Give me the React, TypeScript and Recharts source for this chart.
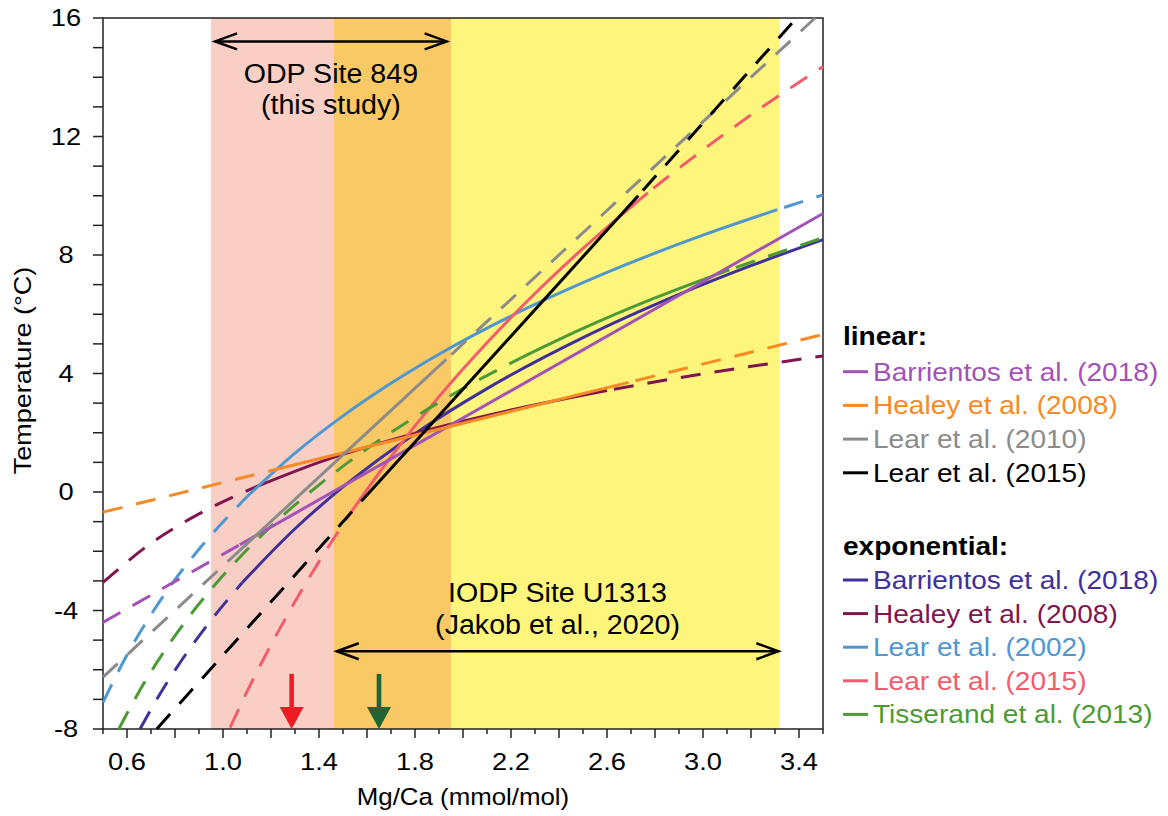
import { LineChart, Line, XAxis, YAxis, ReferenceArea, ReferenceLine } from 'recharts';

type Pt = [number, number]; // [Mg/Ca, temperature]

// linear calibrations
const barrientosLin: Pt[] = [[0.5, -4.4], [1.07, -1.78], [3.5, 9.4]];
const healeyLin: Pt[] = [[0.5, -0.68], [1.19, 0.7], [2.69, 3.7], [3.5, 5.32]];
const lear2010Lin: Pt[] = [[0.5, -6.25], [1.07, -1.97], [1.93, 4.48], [3.467, 16]];
const lear2015Lin: Pt[] = [[0.724, -8], [1.6, -0.1], [2.73, 10.0], [3.39, 16]];

// exponential calibrations
const barrientosExp: Pt[] = [
  [0.654, -8], [0.75, -6.65], [0.85, -5.42], [0.95, -4.33], [1.08, -3.06], [1.3, -1.24],
  [1.5, 0.17], [1.8, 1.97], [2.1, 3.49], [2.5, 5.21], [2.9, 6.67], [3.2, 7.64], [3.5, 8.52],
];
const healeyExp: Pt[] = [
  [0.5, -3.05], [0.7, -1.73], [0.9, -0.74], [1.13, 0.15], [1.4, 1.0], [1.8, 1.98],
  [2.2, 2.77], [2.6, 3.43], [3.0, 3.99], [3.5, 4.59],
];
const lear2002Exp: Pt[] = [
  [0.5, -7.1], [0.6, -5.5], [0.7, -4.14], [0.8, -2.96], [0.9, -1.93], [1.1, -0.16], [1.3, 1.31],
  [1.5, 2.57], [1.7, 3.67], [1.9, 4.65], [2.2, 5.94], [2.6, 7.41], [3.0, 8.67], [3.31, 9.53], [3.5, 10.03],
];
const lear2015Exp: Pt[] = [
  [1.03, -7.95], [1.1, -6.74], [1.2, -5.16], [1.3, -3.7], [1.4, -2.35], [1.55, -0.49], [1.7, 1.19],
  [1.9, 3.22], [2.1, 5.04], [2.3, 6.7], [2.5, 8.22], [2.77, 10.1], [3.0, 11.55], [3.25, 13.01], [3.5, 14.36],
];
const tisserandExp: Pt[] = [
  [0.566, -8], [0.65, -6.74], [0.75, -5.44], [0.85, -4.3], [1.0, -2.82], [1.2, -1.16], [1.4, 0.24],
  [1.6, 1.46], [1.8, 2.53], [2.0, 3.49], [2.24, 4.52], [2.5, 5.52], [2.8, 6.55], [3.11, 7.5], [3.3, 8.04], [3.5, 8.58],
];

// core-top Mg/Ca ranges of the two sites
const odpRange = [0.95, 1.95];
const iodpRange = [1.46, 3.32];
const markerMgCa = [1.286, 1.65];

const X_TICKS = [
  0.5, 0.6, 0.7, 0.8, 0.9, 1.0, 1.1, 1.2, 1.3, 1.4, 1.5, 1.6, 1.7, 1.8, 1.9, 2.0,
  2.1, 2.2, 2.3, 2.4, 2.5, 2.6, 2.7, 2.8, 2.9, 3.0, 3.1, 3.2, 3.3, 3.4, 3.5,
];
const X_LABELS = [0.6, 1.0, 1.4, 1.8, 2.2, 2.6, 3.0, 3.4];
const Y_TICKS = [-8, -7, -6, -5, -4, -3, -2, -1, 0, 1, 2, 3, 4, 5, 6, 7, 8, 9, 10, 11, 12, 13, 14, 15, 16];
const Y_LABELS = [-8, -4, 0, 4, 8, 12, 16];

interface Curve {
  id: string;
  label: string;
  color: string;
  pts: Pt[];
  solid: [number, number];
  smooth: boolean;
}

const LINEAR: Curve[] = [
  { id: 'bl', label: 'Barrientos et al. (2018)', color: '#a352b6', pts: barrientosLin, solid: [1.07, 3.5], smooth: false },
  { id: 'hl', label: 'Healey et al. (2008)', color: '#f68a24', pts: healeyLin, solid: [1.19, 2.69], smooth: false },
  { id: 'l10', label: 'Lear et al. (2010)', color: '#8b8b8b', pts: lear2010Lin, solid: [1.07, 1.93], smooth: false },
  { id: 'l15', label: 'Lear et al. (2015)', color: '#000000', pts: lear2015Lin, solid: [1.6, 2.73], smooth: false },
];

const EXPONENTIAL: Curve[] = [
  { id: 'be', label: 'Barrientos et al. (2018)', color: '#40309a', pts: barrientosExp, solid: [1.08, 3.5], smooth: true },
  { id: 'he', label: 'Healey et al. (2008)', color: '#80164f', pts: healeyExp, solid: [1.13, 2.6], smooth: true },
  { id: 'l02', label: 'Lear et al. (2002)', color: '#4e97d0', pts: lear2002Exp, solid: [1.1, 3.31], smooth: true },
  { id: 'l15e', label: 'Lear et al. (2015)', color: '#f25c6c', pts: lear2015Exp, solid: [1.55, 2.77], smooth: true },
  { id: 'te', label: 'Tisserand et al. (2013)', color: '#4a9b35', pts: tisserandExp, solid: [2.24, 3.11], smooth: true },
];

const FONT = '"Liberation Sans", Arial, Helvetica, sans-serif';

// split a calibration into dashed (extrapolated) and solid (calibrated) parts
function pieces(c: Curve) {
  const [a, b] = c.solid;
  const obj = (p: Pt) => ({ x: p[0], y: p[1] });
  return [
    { dash: 'low', data: c.pts.filter(p => p[0] <= a).map(obj) },
    { dash: '', data: c.pts.filter(p => p[0] >= a && p[0] <= b).map(obj) },
    { dash: 'high', data: c.pts.filter(p => p[0] >= b).map(obj) },
  ].filter(s => s.data.length > 1);
}

const near = (arr: number[], v: number) => arr.some(a => Math.abs(a - v) < 1e-6);

const XTick = (props: any) => {
  const { x, y, payload } = props;
  const v = payload.value as number;
  const long = Math.round(v * 10) % 2 === 0;
  return (
    <g>
      <line x1={x} y1={y} x2={x} y2={y + (long ? 9 : 5)} stroke="#222" strokeWidth={1.5} />
      {near(X_LABELS, v) && (
        <text transform={`translate(${x},${y + 41}) scale(1.16,1)`} textAnchor="middle" fontSize={23.5} fontFamily={FONT} fill="#000">
          {v.toFixed(1)}
        </text>
      )}
    </g>
  );
};

const YTick = (props: any) => {
  const { x, y, payload } = props;
  const v = payload.value as number;
  return (
    <g>
      <line x1={x - 10} y1={y} x2={x} y2={y} stroke="#222" strokeWidth={1.5} />
      {near(Y_LABELS, v) && (
        <text transform={`translate(${x - 37},${y + 8.4}) scale(1.16,1)`} textAnchor="middle" fontSize={23.5} fontFamily={FONT} fill="#000">
          {v}
        </text>
      )}
    </g>
  );
};

const rangeArrow = (lines: string[], dys: number[]) => (props: any) => {
  const { x1, y1, x2 } = props;
  const h = 22;
  const w = 8;
  const mid = (x1 + x2) / 2;
  return (
    <g>
      <line x1={x1} y1={y1} x2={x2} y2={y1} stroke="#000" strokeWidth={2.5} />
      <polyline points={`${x1 + h},${y1 - w} ${x1},${y1} ${x1 + h},${y1 + w}`} fill="none" stroke="#000" strokeWidth={2.5} />
      <polyline points={`${x2 - h},${y1 - w} ${x2},${y1} ${x2 - h},${y1 + w}`} fill="none" stroke="#000" strokeWidth={2.5} />
      {lines.map((t, i) => (
        <text key={i} transform={`translate(${mid},${y1 + dys[i]}) scale(1.06,1)`} textAnchor="middle" fontSize={27} fontFamily={FONT} fill="#000">
          {t}
        </text>
      ))}
    </g>
  );
};

const downArrow = (color: string) => (props: any) => {
  const { x1, y1, y2 } = props;
  const top = Math.min(y1, y2);
  const bot = Math.max(y1, y2);
  return (
    <g>
      <rect x={x1 - 2.3} y={top} width={4.6} height={bot - top - 20} fill={color} />
      <polygon points={`${x1 - 12},${bot - 22} ${x1 + 12},${bot - 22} ${x1},${bot}`} fill={color} />
    </g>
  );
};

const XTitle = (props: any) => {
  const { x, y, width } = props.viewBox;
  return (
    <text transform={`translate(${x + width / 2},${y + 76}) scale(1.1,1)`} textAnchor="middle" fontSize={23.5} fontFamily={FONT} fill="#000">
      Mg/Ca (mmol/mol)
    </text>
  );
};

const YTitle = (props: any) => {
  const { x, y, height } = props.viewBox;
  return (
    <text transform={`translate(${x - 12},${y + height / 2 - 3}) rotate(-90) scale(1.15,1)`} textAnchor="middle" fontSize={23.5} fontFamily={FONT} fill="#000">
      Temperature (°C)
    </text>
  );
};

function LegendBlock() {
  const row = (c: Curve, base: number) => (
    <g key={c.id}>
      <line x1={843} x2={868} y1={base - 9} y2={base - 9} stroke={c.color} strokeWidth={3} />
      <text transform={`translate(873,${base}) scale(1.1,1)`} fontSize={25.5} fontFamily={FONT} fill={c.color}>
        {c.label}
      </text>
    </g>
  );
  return (
    <svg width={1168} height={816} style={{ position: 'absolute', left: 0, top: 0, pointerEvents: 'none' }}>
      <text transform="translate(843,345) scale(1.1,1)" fontSize={25.5} fontWeight="bold" fontFamily={FONT} fill="#000">
        linear:
      </text>
      {LINEAR.map((c, i) => row(c, 380.7 + i * 33.7))}
      <text transform="translate(843,555) scale(1.1,1)" fontSize={25.5} fontWeight="bold" fontFamily={FONT} fill="#000">
        exponential:
      </text>
      {EXPONENTIAL.map((c, i) => row(c, 589 + i * 33.6))}
    </svg>
  );
}

export default function App() {
  return (
    <div style={{ position: 'absolute', left: 0, top: 0, width: 1168, height: 816, background: '#fff', fontFamily: FONT }}>
      <LineChart width={1168} height={816} margin={{ top: 18, right: 345, bottom: 27, left: 43 }}>
        <XAxis
          dataKey="x"
          type="number"
          domain={[0.5, 3.5]}
          ticks={X_TICKS}
          interval={0}
          tick={<XTick />}
          tickLine={false}
          axisLine={false}
          tickSize={0}
          tickMargin={0}
          height={60}
          label={{ value: 'Mg/Ca (mmol/mol)', content: XTitle }}
        />
        <YAxis
          type="number"
          domain={[-8, 16]}
          ticks={Y_TICKS}
          interval={0}
          tick={<YTick />}
          tickLine={false}
          axisLine={false}
          tickSize={0}
          tickMargin={0}
          width={60}
          label={{ value: 'Temperature (°C)', content: YTitle }}
        />
        <ReferenceArea x1={odpRange[0]} x2={iodpRange[0]} fill="#f9cfc5" fillOpacity={1} stroke="none" />
        <ReferenceArea x1={iodpRange[0]} x2={odpRange[1]} fill="#f9c966" fillOpacity={1} stroke="none" />
        <ReferenceArea x1={odpRange[1]} x2={iodpRange[1]} fill="#fef57d" fillOpacity={1} stroke="none" />
        {[...EXPONENTIAL, ...LINEAR].flatMap(c =>
          pieces(c).map((p, i) => (
            <Line
              key={c.id + '-' + i}
              data={p.data}
              dataKey="y"
              type={c.smooth ? 'monotone' : 'linear'}
              stroke={c.color}
              strokeWidth={3}
              strokeDasharray={p.dash ? '20 14' : undefined}
              strokeDashoffset={p.dash === 'high' ? 27 : 0}
              dot={false}
              activeDot={false}
              legendType="none"
              isAnimationActive={false}
            />
          ))
        )}
        <ReferenceArea x1={0.5} x2={3.5} y1={-8} y2={16} fill="none" stroke="#222" strokeWidth={1.5} />
        <ReferenceLine
          segment={[{ x: odpRange[0] + 0.017, y: 15.21 }, { x: odpRange[1] - 0.018, y: 15.21 }]}
          shape={rangeArrow(['ODP Site 849', '(this study)'], [42, 73])}
        />
        <ReferenceLine
          segment={[{ x: iodpRange[0] + 0.014, y: -5.375 }, { x: iodpRange[1] - 0.006, y: -5.375 }]}
          shape={rangeArrow(['IODP Site U1313', '(Jakob et al., 2020)'], [-49, -17])}
        />
        <ReferenceLine segment={[{ x: markerMgCa[0], y: -6.14 }, { x: markerMgCa[0], y: -8 }]} shape={downArrow('#ed1c24')} />
        <ReferenceLine segment={[{ x: markerMgCa[1], y: -6.14 }, { x: markerMgCa[1], y: -8 }]} shape={downArrow('#1f6433')} />
      </LineChart>
      <LegendBlock />
    </div>
  );
}
